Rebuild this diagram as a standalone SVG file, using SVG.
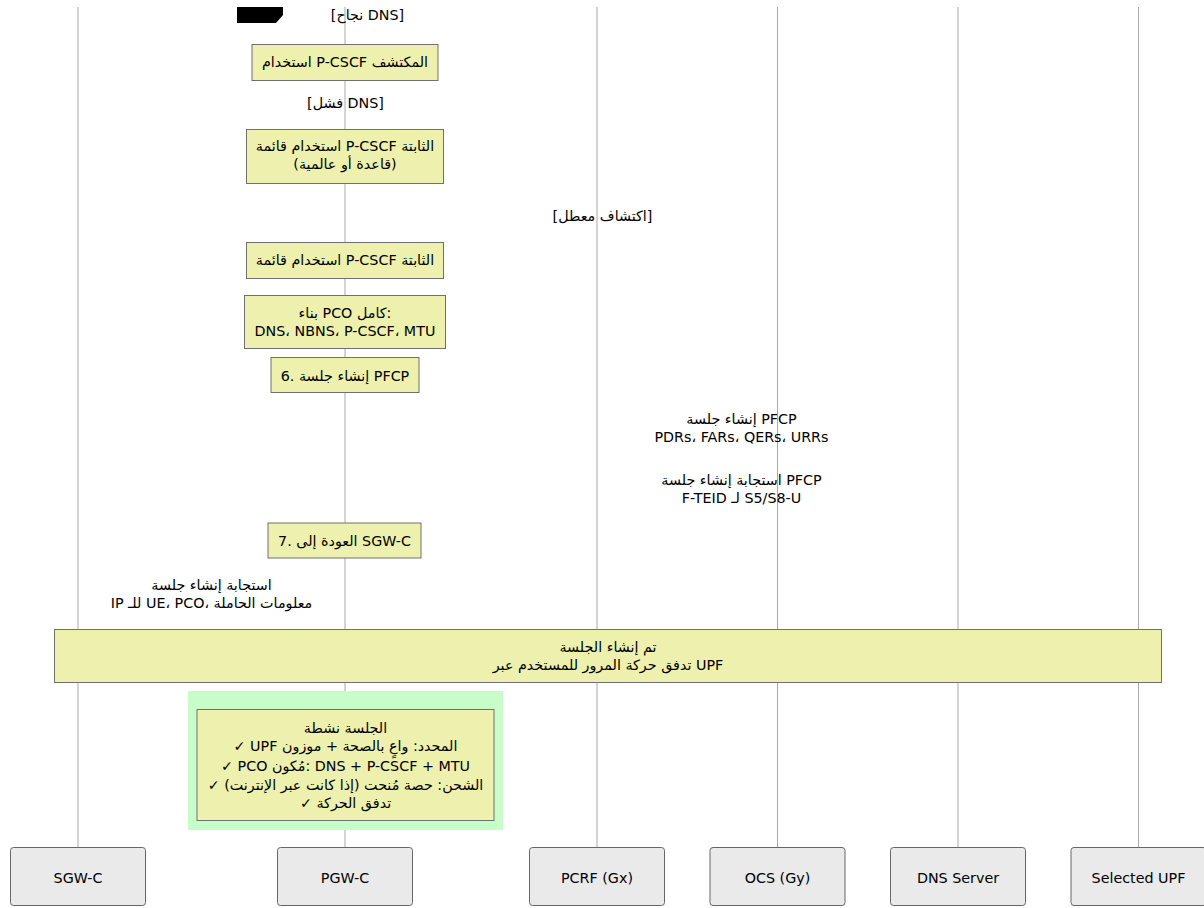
<svg xmlns="http://www.w3.org/2000/svg" width="1204" height="908" viewBox="0 0 1204 908">
<style>
text{font-family:"DejaVu Sans","Noto Sans",sans-serif;font-size:14.3px;fill:#000;text-anchor:middle}
.life{stroke:#aaa;stroke-width:1}
.actor{fill:#eaeaea;stroke:#666;stroke-width:1}
.note{fill:#edf1ad;stroke:#707070;stroke-width:1}
</style>
<rect width="1204" height="908" fill="#fff"/>
<g id="connectors">
<line class="life" x1="78" y1="7" x2="78" y2="848"/>
<line class="life" x1="345" y1="7" x2="345" y2="848"/>
<line class="life" x1="597" y1="7" x2="597" y2="848"/>
<line class="life" x1="777.5" y1="7" x2="777.5" y2="848"/>
<line class="life" x1="958" y1="7" x2="958" y2="848"/>
<line class="life" x1="1138.5" y1="7" x2="1138.5" y2="848"/>
</g>
<g id="alt-frame">
<polygon points="237,7 283,7 283,15 276,23 237,23" fill="#000"/>
<text x="367.5" y="20">[نجاح DNS]</text>
<text x="345.5" y="108">[فشل DNS]</text>
<text x="602.5" y="221">[اكتشاف معطل]</text>
</g>
<g id="messages">
<text x="741.5" y="424">إنشاء جلسة PFCP</text>
<text x="741.5" y="442">PDRs، FARs، QERs، URRs</text>
<text x="741.5" y="485">استجابة إنشاء جلسة PFCP</text>
<text x="741.5" y="503">F-TEID لـ S5/S8-U</text>
<text x="211.5" y="590">استجابة إنشاء جلسة</text>
<text x="211.5" y="608">IP للـ UE، PCO، معلومات الحاملة</text>
</g>
<rect id="active-region" x="188" y="691" width="315" height="139" fill="#c8fcc8"/>
<g id="note-discovered">
<rect class="note" x="252" y="44.5" width="186" height="36"/>
<text x="345" y="67">استخدام P-CSCF المكتشف</text>
</g>
<g id="note-static-list">
<rect class="note" x="246.5" y="129.5" width="197" height="54"/>
<text x="345" y="151">استخدام قائمة P-CSCF الثابتة</text>
<text x="345" y="169">(قاعدة أو عالمية)</text>
</g>
<g id="note-static-list-2">
<rect class="note" x="246.5" y="242.5" width="197" height="36"/>
<text x="345" y="265">استخدام قائمة P-CSCF الثابتة</text>
</g>
<g id="note-build-pco">
<rect class="note" x="244.5" y="295.5" width="201" height="53"/>
<text x="345" y="318">بناء PCO كامل:</text>
<text x="345" y="336">DNS، NBNS، P-CSCF، MTU</text>
</g>
<g id="note-step6">
<rect class="note" x="271" y="357.5" width="148" height="35"/>
<text x="345" y="381">6. إنشاء جلسة PFCP</text>
</g>
<g id="note-step7">
<rect class="note" x="268" y="523" width="153" height="35"/>
<text x="344.5" y="546">7. العودة إلى SGW-C</text>
</g>
<g id="note-established">
<rect class="note" x="54.5" y="629.5" width="1107" height="53"/>
<text x="608" y="652">تم إنشاء الجلسة</text>
<text x="608" y="670">تدفق حركة المرور للمستخدم عبر UPF</text>
</g>
<g id="note-active">
<rect class="note" x="197" y="709.5" width="297" height="111"/>
<text x="345.5" y="733">الجلسة نشطة</text>
<text x="345.5" y="751">✓ UPF المحدد: واعٍ بالصحة + موزون</text>
<text x="345.5" y="771">✓ PCO مُكون: DNS + P-CSCF + MTU</text>
<text x="345.5" y="790">✓ الشحن: حصة مُنحت (إذا كانت عبر الإنترنت)</text>
<text x="345.5" y="808">✓ تدفق الحركة</text>
</g>
<g id="SGW-C">
<rect class="actor" x="10.5" y="847.5" width="135" height="58" rx="3"/>
<text x="78" y="883">SGW-C</text>
</g>
<g id="PGW-C">
<rect class="actor" x="277.5" y="847.5" width="135" height="58" rx="3"/>
<text x="345" y="883">PGW-C</text>
</g>
<g id="PCRF">
<rect class="actor" x="529.5" y="847.5" width="135" height="58" rx="3"/>
<text x="597" y="883">PCRF (Gx)</text>
</g>
<g id="OCS">
<rect class="actor" x="710" y="847.5" width="135" height="58" rx="3"/>
<text x="777.5" y="883">OCS (Gy)</text>
</g>
<g id="DNS">
<rect class="actor" x="890.5" y="847.5" width="135" height="58" rx="3"/>
<text x="958" y="883">DNS Server</text>
</g>
<g id="UPF">
<rect class="actor" x="1071" y="847.5" width="135" height="58" rx="3"/>
<text x="1138.5" y="883">Selected UPF</text>
</g>
</svg>
